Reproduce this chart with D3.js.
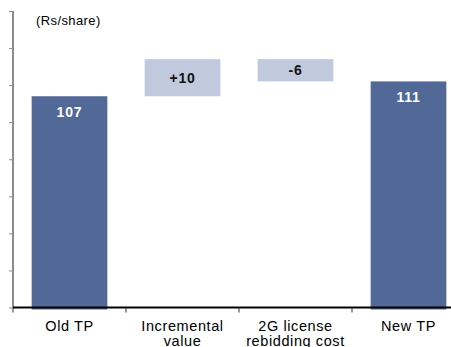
<!DOCTYPE html>
<html>
<head>
<meta charset="utf-8">
<script src="https://cdn.jsdelivr.net/npm/d3@7"></script>
<style>
  html, body { margin: 0; padding: 0; background: #fff; }
  svg { display: block; font-family: Arial, "Liberation Sans", sans-serif; }
</style>
</head>
<body>
<svg id="chart" width="451" height="347"></svg>
<script>
// Target price bridge (Rs/share)
const categories = ["Old TP", "Incremental value", "2G license rebidding cost", "New TP"];
const categoryLines = [["Old TP"], ["Incremental", "value"], ["2G license", "rebidding cost"], ["New TP"]];
const steps = [107, 10, -6, 111];
const kinds = ["total", "delta", "delta", "total"];
const valueLabels = ["107", "+10", "-6", "111"];
const yTicks = [50, 60, 70, 80, 90, 100, 110, 120, 130];

// Build floating segments for the waterfall
let running = 0;
const bars = categories.map((c, i) => {
  let lo, hi;
  if (kinds[i] === "total") { lo = 50; hi = steps[i]; running = steps[i]; }
  else { const next = running + steps[i]; lo = Math.min(running, next); hi = Math.max(running, next); running = next; }
  return { cat: c, lo, hi, kind: kinds[i], label: valueLabels[i], lines: categoryLines[i] };
});

const svg = d3.select("#chart");
const x0 = 13, y0 = 307.5, yTop = 11;
const x = d3.scaleBand().domain(categories).range([x0, x0 + 452]).paddingInner(0.33).paddingOuter(0.165);
const y = d3.scaleLinear().domain([50, 130]).range([y0, yTop]);

// Bars
svg.selectAll("rect.bar").data(bars).join("rect")
  .attr("class", "bar")
  .attr("x", d => x(d.cat))
  .attr("width", x.bandwidth())
  .attr("y", d => y(d.hi))
  .attr("height", d => y(d.lo) - y(d.hi) + (d.kind === "total" ? 2 : 0))
  .attr("fill", d => d.kind === "total" ? "#526897" : "#c0c9de");

// Value labels
svg.selectAll("text.val").data(bars).join("text")
  .attr("class", "val")
  .attr("x", d => x(d.cat) + x.bandwidth() / 2)
  .attr("y", d => d.kind === "total" ? y(d.hi) + 21 : (y(d.hi) + y(d.lo)) / 2 + 5)
  .attr("text-anchor", "middle")
  .attr("font-size", 14)
  .attr("font-weight", "bold")
  .attr("letter-spacing", 0.8)
  .attr("fill", d => d.kind === "total" ? "#ffffff" : "#111")
  .text(d => d.label);

// Y axis (unlabelled ticks)
const yAxis = d3.axisLeft(y).tickValues(yTicks).tickSize(4).tickFormat("");
const gy = svg.append("g").attr("transform", `translate(${x0},0)`).call(yAxis);
gy.select(".domain").attr("stroke", "#8c8c8c").attr("stroke-width", 2).attr("d", `M0,${yTop}V${y0}`);
gy.selectAll(".tick line").attr("stroke", "#8c8c8c").attr("stroke-width", 1);

// X axis
const bounds = [x0, ...categories.slice(1).map(c => x(c) - x.step() * x.paddingInner() / 2)];
const gx = svg.append("g");
gx.append("line").attr("x1", x0).attr("x2", 451).attr("y1", y0).attr("y2", y0)
  .attr("stroke", "#000").attr("stroke-width", 2);
gx.selectAll("line.tk").data(bounds).join("line").attr("class", "tk")
  .attr("x1", d => d).attr("x2", d => d).attr("y1", y0).attr("y2", y0 + 5)
  .attr("stroke", "#333").attr("stroke-width", 1);

// Category labels
const lab = svg.selectAll("text.cat").data(bars).join("text")
  .attr("class", "cat")
  .attr("text-anchor", "middle")
  .attr("font-size", 14.5)
  .attr("letter-spacing", 0.6)
  .attr("fill", "#000");
lab.selectAll("tspan").data(d => d.lines.map(l => ({ l, cx: x(d.cat) + x.bandwidth() / 2 })))
  .join("tspan")
  .attr("x", d => d.cx)
  .attr("y", (d, i) => 331 + i * 15)
  .text(d => d.l);

// Unit note
svg.append("text").attr("x", 36).attr("y", 25).attr("font-size", 13).attr("letter-spacing", 0.4)
  .attr("fill", "#000").text("(Rs/share)");
</script>
</body>
</html>
